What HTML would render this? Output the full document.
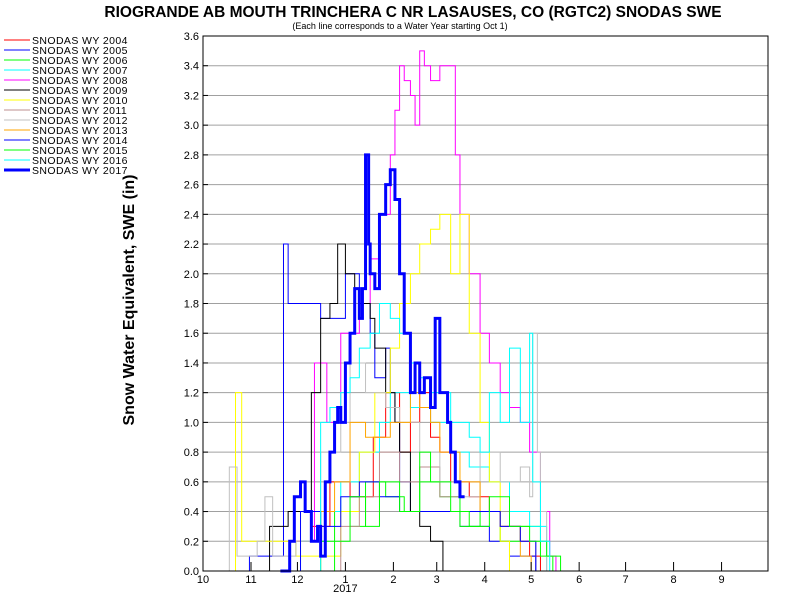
<!DOCTYPE html>
<html><head><meta charset="utf-8"><style>
body{margin:0;background:#fff;}
svg{display:block;font-family:"Liberation Sans",Arial,sans-serif;}
</style></head><body>
<svg id="c" width="800" height="600" viewBox="0 0 800 600">
<rect x="0" y="0" width="800" height="600" fill="#fff"/>
<text x="413" y="17" text-anchor="middle" font-size="15.5" font-weight="bold">RIOGRANDE AB MOUTH TRINCHERA C NR LASAUSES, CO (RGTC2) SNODAS SWE</text>
<text x="400" y="29" text-anchor="middle" font-size="9">(Each line corresponds to a Water Year starting Oct 1)</text>
<text transform="translate(134,300) rotate(-90)" text-anchor="middle" font-size="16" font-weight="bold">Snow Water Equivalent, SWE (in)</text>
<g id="grid"></g><g id="series"></g><g id="axes"></g><g id="legend"></g>
</svg>
<script>
const NS="http://www.w3.org/2000/svg";
const yTicks=[0,0.2,0.4,0.6,0.8,1.0,1.2,1.4,1.6,1.8,2.0,2.2,2.4,2.6,2.8,3.0,3.2,3.4,3.6];
const monthLabels=["10","11","12","1","2","3","4","5","6","7","8","9"];
const monthDays=[0,31,61,92,123,151,182,212,243,273,304,335];
const names=["SNODAS WY 2004","SNODAS WY 2005","SNODAS WY 2006","SNODAS WY 2007","SNODAS WY 2008","SNODAS WY 2009","SNODAS WY 2010","SNODAS WY 2011","SNODAS WY 2012","SNODAS WY 2013","SNODAS WY 2014","SNODAS WY 2015","SNODAS WY 2016","SNODAS WY 2017"];
const colors=["#ff0000","#0000ff","#00ff00","#00ffff","#ff00ff","#000000","#ffff00","#bc8f8f","#c0c0c0","#ffa500","#0000ff","#00ff00","#00ffff","#0000ff"];
// series: day-of-water-year and SWE values
const d2004=[40,56,70,82,95,110,118,127,134,140,147,153,160,172,185,192,205,211,218];
const v2004=[0,0.2,0.3,0.6,0.5,0.9,1.2,0.8,1.0,1.2,0.9,0.8,0.6,0.5,0.4,0.3,0.2,0.1,0];
const d2005=[15,30,50,52,55,63,76,82,92,101,108,111,118,121,124,127,134,147,166,185,198,205,215];
const v2005=[0,0.1,0.1,2.2,1.8,1.8,1.7,1.7,2.0,1.8,1.6,1.3,1.5,1.2,1.0,0.6,0.4,0.4,0.3,0.2,0.1,0.1,0];
const d2006=[60,76,85,95,105,118,130,140,153,166,179,192,205,218,226];
const v2006=[0,0.2,0.4,0.3,0.6,0.5,0.4,0.6,0.5,0.3,0.4,0.2,0.3,0.1,0];
const d2007=[50,63,76,89,101,114,121,134,147,160,172,185,198,211,222];
const v2007=[0,0.2,0.4,0.6,0.8,1.0,1.2,1.1,1.0,0.8,0.7,0.6,0.4,0.3,0];
const d2008=[69,72,80,89,101,108,114,121,124,127,130,134,137,140,143,147,153,160,163,166,172,179,185,192,198,205,211,218,224,228];
const v2008=[0.2,1.4,1.0,1.6,1.8,2.1,2.4,2.8,3.1,3.4,3.3,3.2,3.0,3.5,3.4,3.3,3.4,3.4,2.8,2.4,2.0,1.6,1.4,1.2,1.1,1.0,0.8,0.4,0.1,0];
const d2009=[40,43,55,70,76,82,87,92,98,101,108,111,118,124,127,134,140,147,155];
const v2009=[0,0.3,0.4,1.2,1.7,1.8,2.2,2.0,1.9,1.8,1.7,1.5,1.2,1.0,0.8,0.4,0.3,0.2,0];
const d2010=[18,21,25,40,60,89,101,111,121,127,134,140,147,153,160,166,172,179,185,192,198];
const v2010=[0,1.2,0.2,0.2,0.1,0.4,0.8,1.2,1.5,1.8,2.0,2.2,2.3,2.4,2.0,2.4,1.6,1.0,0.6,0.2,0];
const d2011=[70,89,101,114,127,140,153,166,179,192,205,215];
const v2011=[0,0.3,0.5,0.8,0.6,0.7,0.5,0.6,0.4,0.3,0.2,0];
const d2012=[12,17,22,35,40,45,60,76,89,95,105,118,127,140,153,166,179,192,205,211,213,216,218,222];
const v2012=[0,0.7,0.1,0.2,0.5,0.1,0.2,0.8,1.0,1.4,1.2,1.1,1.0,0.8,0.6,0.5,0.8,0.6,0.7,0.5,1.6,0.8,0.4,0];
const d2013=[65,76,85,95,105,114,121,134,140,147,153,166,179,192,205,212];
const v2013=[0,0.4,0.6,1.0,0.9,0.9,1.0,1.2,1.1,1.0,0.8,0.6,0.4,0.3,0.1,0];
const d2014=[55,63,76,89,101,114,127,140,153,166,179,192,205,215];
const v2014=[0,0.4,0.3,0.5,0.6,0.5,0.4,0.4,0.4,0.4,0.4,0.3,0.2,0];
const d2015=[75,85,95,105,114,127,140,147,160,172,185,198,211,222,231];
const v2015=[0,0.2,0.5,0.3,0.6,0.4,0.8,0.6,0.4,0.3,0.5,0.3,0.2,0.1,0];
const d2016=[65,76,82,89,95,101,108,114,121,127,134,140,147,160,172,179,185,192,198,205,211,213,218,224];
const v2016=[0,1.0,1.1,1.2,1.3,1.5,1.6,1.8,1.7,1.6,1.4,1.3,1.2,1.0,0.9,0.8,1.2,1.0,1.5,1.0,1.6,0.6,0.2,0];
const d2017=[50,56,59,63,66,70,74,76,79,82,85,87,89,92,95,98,101,103,105,107,108,111,114,118,121,124,127,130,134,137,140,143,147,150,153,158,160,163,166,169];
const v2017=[0,0.2,0.5,0.6,0.4,0.2,0.3,0.1,0.6,0.8,1.0,1.1,1.0,1.4,1.6,1.9,1.7,1.9,2.8,2.2,2.0,1.9,2.4,2.6,2.7,2.5,2.0,1.6,1.2,1.4,1.2,1.3,1.1,1.7,1.2,1.0,0.8,0.6,0.5,0.5];
const seriesDays=[d2004,d2005,d2006,d2007,d2008,d2009,d2010,d2011,d2012,d2013,d2014,d2015,d2016,d2017];
const seriesVals=[v2004,v2005,v2006,v2007,v2008,v2009,v2010,v2011,v2012,v2013,v2014,v2015,v2016,v2017];

const X0=203,X1=768,Y0=571,Y1=36;
const xs=d=>X0+d*(X1-X0)/365;
const ys=v=>Y0-v*(Y0-Y1)/3.6;
function mk(tag,attrs,parent){const e=document.createElementNS(NS,tag);for(const k in attrs)e.setAttribute(k,attrs[k]);parent.appendChild(e);return e;}
const grid=document.getElementById('grid'),ser=document.getElementById('series'),axes=document.getElementById('axes'),leg=document.getElementById('legend');
yTicks.forEach(t=>{
  if(t>0&&t<3.6){const l=mk('line',{x1:X0,x2:X1,y1:ys(t),y2:ys(t),stroke:'#a0a0a0','stroke-width':1},grid);
  
  }
  const tk=mk('line',{x1:X0,x2:X0+5,y1:ys(t),y2:ys(t),stroke:'#000'},axes);
  
  
  const tx=mk('text',{x:X0-4,y:ys(t)+4,'text-anchor':'end','font-size':11},axes);
  tx.textContent=t.toFixed(1);
  
  
});
monthDays.forEach((d,i)=>{
  const tk=mk('line',{x1:xs(d),x2:xs(d),y1:Y0,y2:Y0-9,stroke:'#000'},axes);
  
  
  const tx=mk('text',{x:xs(d),y:Y0+12,'text-anchor':'middle','font-size':11},axes);
  tx.textContent=monthLabels[i];
  
  
});
const yr=mk('text',{x:xs(92),y:Y0+21,'text-anchor':'middle','font-size':11},axes);
yr.textContent='2017';


const frame=mk('rect',{x:X0,y:Y1,width:X1-X0,height:Y0-Y1,fill:'none',stroke:'#000','stroke-width':1},axes);


seriesDays.forEach((ds,i)=>{
  const vs=seriesVals[i];let p='M'+xs(ds[0])+','+ys(vs[0]);
  for(let k=1;k<ds.length;k++){p+=' H'+xs(ds[k])+' V'+ys(vs[k]);}
  const path=mk('path',{d:p,fill:'none',stroke:colors[i],'stroke-width':i==13?3:1},ser);
  
  
});
names.forEach((n,i)=>{
  const y=40+i*10;
  const g=mk('g',{},leg);
  
  
  mk('line',{x1:4,x2:30,y1:y,y2:y,stroke:colors[i],'stroke-width':i==13?3:1},g);
  const t=mk('text',{x:32,y:y+4,'font-size':10.5,'letter-spacing':'0.4'},g);
  t.textContent=n;
});
</script>
</body></html>
